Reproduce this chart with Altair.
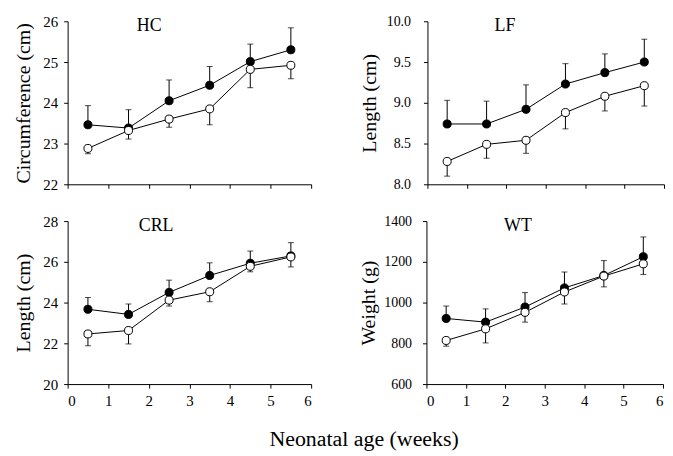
import altair as alt
import pandas as pd

weeks = [0.5, 1.5, 2.5, 3.5, 4.5, 5.5]

# HC - head circumference (cm)
hc_filled = [23.46, 23.38, 24.05, 24.43, 25.01, 25.30]
hc_filled_top = [23.93, 23.83, 24.56, 24.89, 25.44, 25.84]
hc_open = [22.88, 23.32, 23.60, 23.85, 24.82, 24.92]
hc_open_bottom = [22.75, 23.11, 23.40, 23.46, 24.37, 24.59]

# LF - length (cm)
lf_filled = [8.74, 8.74, 8.92, 9.23, 9.37, 9.50]
lf_filled_top = [9.03, 9.02, 9.22, 9.48, 9.60, 9.78]
lf_open = [8.28, 8.49, 8.54, 8.88, 9.08, 9.21]
lf_open_bottom = [8.10, 8.32, 8.38, 8.68, 8.90, 8.96]

# CRL - crown-rump length (cm)
crl_filled = [23.67, 23.42, 24.50, 25.33, 25.93, 26.29]
crl_filled_top = [24.25, 23.93, 25.10, 25.95, 26.53, 26.94]
crl_open = [22.46, 22.63, 24.12, 24.53, 25.78, 26.24]
crl_open_bottom = [21.88, 21.97, 23.83, 24.04, 25.51, 25.75]

# WT - weight (g)
wt_filled = [922, 904, 978, 1072, 1133, 1225]
wt_filled_top = [983, 969, 1049, 1150, 1206, 1322]
wt_open = [814, 871, 952, 1052, 1130, 1190]
wt_open_bottom = [786, 802, 904, 993, 1077, 1138]

x_ticks = [0, 1, 2, 3, 4, 5, 6]

FONT = "Liberation Serif"


def panel(name, ytitle, ydomain, yticks, yfmt, filled, ftop, opn, obot,
          show_xlabels, label_x, width, label_pad, title_pad, label_size):
    rows = []
    for i, w in enumerate(weeks):
        rows.append({"week": w, "mean": filled[i], "err": ftop[i], "grp": "filled"})
        rows.append({"week": w, "mean": opn[i], "err": obot[i], "grp": "open"})
    df = pd.DataFrame(rows)

    x = alt.X("week:Q",
              scale=alt.Scale(domain=[0, 6], nice=False),
              axis=alt.Axis(values=x_ticks, title=None, grid=False,
                            labels=show_xlabels, format="d",
                            domainColor="black", tickColor="black",
                            tickSize=4, labelPadding=6, labelFontSize=15))
    y = alt.Y("mean:Q",
              scale=alt.Scale(domain=ydomain, nice=False, zero=False),
              axis=alt.Axis(values=yticks, format=yfmt, title=ytitle,
                            grid=False, domainColor="black", tickColor="black",
                            tickSize=4, labelPadding=label_pad,
                            titlePadding=title_pad, labelFontSize=label_size))

    base = alt.Chart(df)
    rule = base.mark_rule(color="black", strokeWidth=1).encode(
        x=x, y=y, y2="err:Q")
    cap = base.mark_tick(color="black", orient="horizontal", size=6,
                         thickness=1).encode(x=x, y=alt.Y("err:Q"))
    line = base.mark_line(color="black", strokeWidth=1).encode(
        x=x, y=y, detail="grp:N")
    pts = base.mark_point(filled=True, size=65, stroke="black",
                          strokeWidth=1, opacity=1).encode(
        x=x, y=y,
        fill=alt.Fill("grp:N",
                      scale=alt.Scale(domain=["filled", "open"],
                                      range=["black", "white"]),
                      legend=None))
    label = alt.Chart(pd.DataFrame({"t": [name]})).mark_text(
        font=FONT, fontSize=18, color="black", baseline="middle",
        align="center").encode(text="t:N", x=alt.value(label_x),
                               y=alt.value(5))
    return alt.layer(line, rule, cap, pts, label).properties(
        width=width, height=164)


hc = panel("HC", "Circumference (cm)", [22, 26], [22, 23, 24, 25, 26], "d",
           hc_filled, hc_filled_top, hc_open, hc_open_bottom, False, 82,
           245, 6, 9, 15)
lf = panel("LF", "Length (cm)", [8, 10], [8.0, 8.5, 9.0, 9.5, 10.0], ".1f",
           lf_filled, lf_filled_top, lf_open, lf_open_bottom, False, 78,
           238, 13, 7, 14)
crl = panel("CRL", "Length (cm)", [20, 28], [20, 22, 24, 26, 28], "d",
            crl_filled, crl_filled_top, crl_open, crl_open_bottom, True, 89,
            245, 6, 9, 15)
wt = panel("WT", "Weight (g)", [600, 1400], [600, 800, 1000, 1200, 1400], "d",
           wt_filled, wt_filled_top, wt_open, wt_open_bottom, True, 92,
           238, 11, 5, 14)

chart = alt.vconcat(
    alt.hconcat(hc, lf, spacing=47),
    alt.hconcat(crl, wt, spacing=47),
    spacing=22,
).properties(
    padding={"left": 5, "top": 5, "right": 0, "bottom": 5},
    title=alt.TitleParams("Neonatal age (weeks)", orient="bottom",
                          anchor="middle", font=FONT, fontSize=22,
                          fontWeight="normal", color="black", offset=20,
                          dx=25)
).configure_view(stroke=None).configure_axis(
    labelFont=FONT, titleFont=FONT, titleFontSize=20,
    titleFontWeight="normal", labelColor="black", titleColor="black"
)

chart.save("out.html", embed_options={"renderer": "svg", "actions": False})
